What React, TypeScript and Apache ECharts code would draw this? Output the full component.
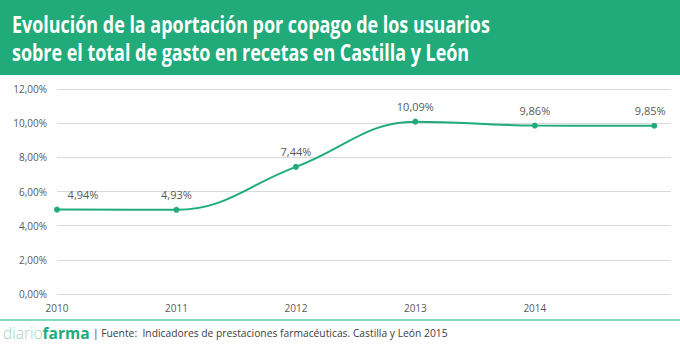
import React, { useEffect, useRef } from "react";
import * as echarts from "echarts";

const titleLines = [
  "Evolución de la aportación por copago de los usuarios",
  "sobre el total de gasto en recetas en Castilla y León",
];
const years = [2010, 2011, 2012, 2013, 2014, 2015];
const values = [4.94, 4.93, 7.44, 10.09, 9.86, 9.85];
const yTicks = [0, 2, 4, 6, 8, 10, 12];
const xTickLabels = ["2010", "2011", "2012", "2013", "2014"];
const sourceText = "| Fuente:  Indicadores de prestaciones farmacéuticas. Castilla y León 2015";

const fmt = (v: number) => v.toFixed(2).replace(".", ",") + "%";

export default function App() {
  const ref = useRef<HTMLDivElement>(null);
  useEffect(() => {
    const chart = echarts.init(ref.current!, null, { renderer: "svg" });
    const green = "#21AB7B";
    chart.setOption({
      animation: false,
      backgroundColor: "#ffffff",
      textStyle: { fontFamily: "Open Sans" },
      grid: { left: 57, right: 9, top: 89, bottom: 54 },
      xAxis: {
        type: "value",
        min: 2010,
        max: 2015.14,
        interval: 1,
        axisLine: { show: false },
        axisTick: { show: false },
        splitLine: { show: false },
        axisLabel: {
          color: "#595959",
          fontSize: 10,
          margin: 9,
          showMaxLabel: false,
          formatter: (v: number) => {
            const s = String(Math.round(v));
            return Math.abs(v - Math.round(v)) < 1e-6 && xTickLabels.includes(s) ? s : "";
          },
        },
      },
      yAxis: {
        type: "value",
        min: yTicks[0],
        max: yTicks[yTicks.length - 1],
        interval: 2,
        axisLine: { show: false },
        axisTick: { show: false },
        splitLine: { lineStyle: { color: "#d9d9d9", width: 1 } },
        axisLabel: { color: "#595959", fontSize: 10, margin: 10, formatter: (v: number) => fmt(v) },
      },
      series: [
        {
          type: "line",
          smooth: 0.4,
          data: years.map((y, i) => [y, values[i]]),
          symbol: "circle",
          symbolSize: 6,
          itemStyle: { color: green },
          lineStyle: { color: green, width: 2 },
          label: {
            show: true,
            position: "top",
            distance: 7,
            color: "#595959",
            fontSize: 11,
            formatter: (p: any) => fmt(p.value[1]),
          },
          labelLayout: (p: any) => {
            if (p.dataIndex === 0) return { dx: 26 };
            if (p.dataIndex === 5) return { dx: -4 };
            return {};
          },
        },
      ],
      graphic: [
        {
          type: "rect",
          x: 0,
          y: 0,
          shape: { width: 680, height: 75 },
          style: { fill: green },
          silent: true,
        },
        {
          type: "text",
          x: 12,
          y: 13,
          scaleX: 0.78,
          style: {
            text: titleLines[0],
            fill: "#ffffff",
            font: "bold 23px 'Open Sans'",
          },
        },
        {
          type: "text",
          x: 12,
          y: 41,
          scaleX: 0.78,
          style: {
            text: titleLines[1],
            fill: "#ffffff",
            font: "bold 23px 'Open Sans'",
          },
        },
        {
          type: "line",
          shape: { x1: 0, y1: 320, x2: 680, y2: 320 },
          style: { stroke: "#5fd1a7", lineWidth: 1.5 },
        },
        {
          type: "text",
          x: 3,
          y: 325,
          style: {
            text: "{a|diario}{b|farma} {c|" + sourceText + "}",
            rich: {
              a: { fill: "#9dd5bf", fontSize: 15.5, fontFamily: "Open Sans", fontWeight: 300 },
              b: { fill: green, fontSize: 15.5, fontFamily: "Open Sans", fontWeight: "bold" },
              c: { fill: "#404040", fontSize: 10.3, fontFamily: "Open Sans" },
            },
          },
        },
      ],
    });
    return () => chart.dispose();
  }, []);
  return <div ref={ref} style={{ width: 680, height: 348, position: "absolute", left: 0, top: 0 }} />;
}
